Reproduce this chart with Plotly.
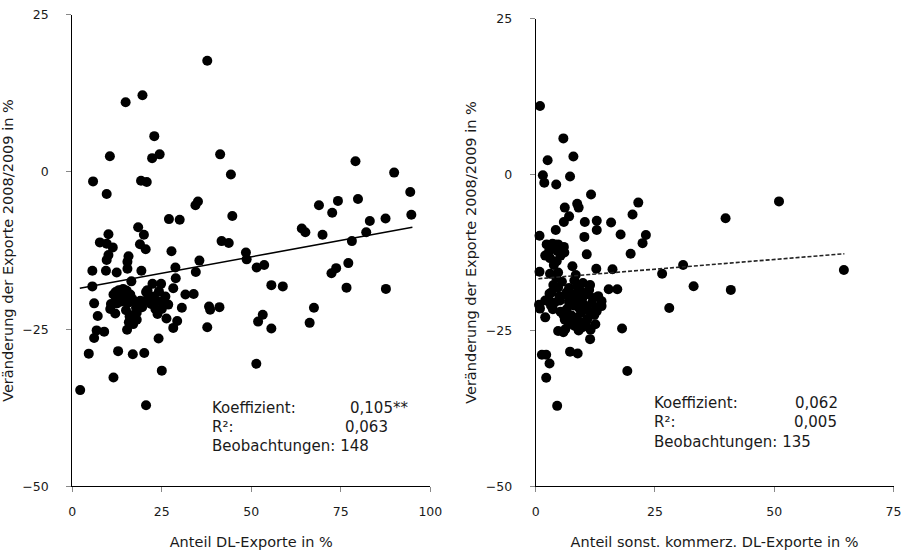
import plotly.graph_objects as go

# ---------------- data: left panel (Anteil DL-Exporte) ----------------
dl_share = [
    37.7, 19.6, 14.9, 22.9, 10.5, 22.3, 24.4, 41.3, 79.1, 89.9,
    44.3, 5.8, 19.2, 20.8, 9.6, 94.4, 79.8, 74.2, 35.1, 34.4,
    68.9, 72.6, 44.7, 94.7, 27.0, 30.0, 87.5, 83.1, 18.4, 64.1,
    65.1, 82.1, 10.1, 20.0, 69.9, 7.7, 9.6, 11.3, 18.9, 20.5,
    41.7, 43.7, 78.1, 27.7, 48.5, 48.7, 10.1, 9.6, 15.7, 15.4,
    35.5, 77.1, 28.8, 15.4, 5.6, 9.4, 12.4, 19.3, 34.5, 51.5,
    53.6, 73.7, 72.4, 28.9, 16.5, 5.6, 22.4, 24.8, 28.2, 55.6,
    58.8, 76.6, 87.6, 12.1, 14.0, 15.2, 20.6, 21.4, 31.6, 33.9,
    13.3, 15.7, 12.5, 17.3, 24.8, 6.1, 25.4, 26.8, 19.5, 38.2,
    38.5, 41.1, 30.6, 10.6, 23.2, 67.5, 18.0, 7.1, 18.0, 26.3,
    29.3, 15.8, 51.9, 53.2, 66.3, 15.3, 28.2, 37.7, 55.6, 6.8,
    8.9, 6.1, 24.1, 4.6, 12.8, 16.9, 20.1, 51.4, 25.0, 11.5,
    2.2, 20.6,
    13.0, 14.8, 13.8, 15.5, 12.2, 14.2, 16.2, 21.0, 22.5, 23.6,
    20.5, 24.2, 22.0, 16.5, 17.0, 15.0, 16.0, 10.8, 25.0, 26.0,
    17.8, 11.5, 19.0, 16.8, 12.0, 23.8,
]
dl_change = [
    17.7, 12.2, 11.1, 5.7, 2.5, 2.2, 2.8, 2.8, 1.7, -0.1,
    -0.4, -1.5, -1.4, -1.6, -3.5, -3.2, -4.3, -4.6, -4.7, -5.3,
    -5.3, -6.5, -7.0, -6.8, -7.5, -7.6, -7.4, -7.8, -8.8, -9.0,
    -9.6, -9.6, -9.9, -10.0, -10.0, -11.2, -11.4, -12.0, -11.5, -12.3,
    -11.0, -11.3, -11.0, -12.6, -12.8, -13.9, -13.2, -14.0, -13.4, -14.3,
    -14.1, -14.5, -15.2, -15.4, -15.7, -15.7, -16.0, -15.7, -15.9, -15.2,
    -14.8, -15.3, -16.1, -16.9, -17.4, -18.2, -17.8, -17.8, -18.5, -18.0,
    -18.2, -18.4, -18.6, -19.1, -19.3, -18.9, -19.1, -19.8, -19.5, -19.4,
    -20.0, -19.8, -20.9, -20.7, -20.6, -20.9, -21.1, -21.1, -21.5, -21.4,
    -21.9, -21.5, -21.6, -21.8, -21.8, -21.6, -22.4, -22.9, -23.5, -23.3,
    -23.7, -23.9, -23.8, -22.7, -24.0, -25.1, -24.8, -24.7, -24.9, -25.2,
    -25.4, -26.4, -26.5, -28.9, -28.5, -29.0, -28.8, -30.5, -31.6, -32.7,
    -34.7, -37.1,
    -18.8, -19.6, -20.6, -20.8, -20.0, -18.6, -19.5, -18.8, -19.8, -20.5,
    -20.5, -19.0, -21.0, -22.8, -24.2, -22.0, -23.0, -21.0, -21.8, -19.8,
    -21.6, -19.5, -20.5, -20.2, -22.5, -22.6,
]
dl_trend_x = [2.1, 95.0]
dl_trend_y = [-18.5, -8.8]

# ---------------- data: right panel (sonst. kommerz. DL-Exporte) ----------------
sk_share = [
    0.9, 5.8, 7.9, 2.5, 1.5, 1.8, 4.3, 7.2, 11.6, 51.0,
    21.5, 8.7, 9.0, 6.1, 20.3, 7.0, 5.9, 39.8, 10.3, 12.8,
    12.8, 15.8, 4.2, 0.8, 10.2, 17.8, 23.1, 22.4, 2.3, 4.0,
    4.7, 5.9, 2.0, 3.0, 4.4, 10.7, 19.9, 30.9, 7.7, 0.8,
    3.0, 4.7, 12.7, 16.1, 8.4, 26.5, 64.6, 8.1, 9.9, 11.4,
    3.7, 4.7, 33.1, 15.3, 17.1, 40.9, 2.9, 2.7, 6.5, 8.0,
    9.3, 10.7, 13.1, 0.7, 0.9, 5.1, 7.0, 8.6, 12.8, 13.8,
    10.5, 9.1, 3.6, 28.0, 2.0, 5.8, 6.1, 7.9, 9.3, 10.5,
    9.8, 11.5, 4.7, 5.8, 18.1, 11.4, 7.2, 8.8, 1.3, 2.2,
    2.9, 19.2, 2.2, 4.5,
    3.5, 4.5, 2.8, 5.2, 3.8, 6.0, 3.3, 5.0, 4.0, 7.0,
    8.8, 10.0, 11.8, 8.0, 6.5, 12.0, 9.5, 7.0, 8.5, 10.8,
    6.2, 9.0, 12.3, 11.2, 13.8, 6.8, 9.8, 12.5, 4.3, 2.0,
    5.5, 7.5, 10.5, 3.2, 5.2, 8.2, 11.0, 12.8, 9.6,
]
sk_change = [
    11.0, 5.8, 2.9, 2.3, -0.1, -1.3, -1.6, -0.3, -3.2, -4.3,
    -4.5, -4.7, -5.3, -5.3, -6.4, -6.7, -7.6, -7.0, -7.6, -7.4,
    -8.9, -7.7, -8.9, -9.8, -10.0, -9.6, -9.7, -11.0, -11.2, -11.2,
    -11.2, -11.6, -13.0, -13.4, -13.9, -12.8, -12.7, -14.5, -14.7, -15.6,
    -15.9, -15.7, -15.1, -15.2, -16.1, -15.9, -15.3, -17.0, -17.4, -17.7,
    -17.7, -18.1, -17.9, -18.4, -18.4, -18.5, -19.1, -20.1, -18.9, -19.2,
    -19.2, -19.2, -19.5, -20.9, -21.5, -20.2, -20.5, -20.2, -21.4, -21.1,
    -21.6, -21.4, -21.6, -21.4, -22.9, -22.5, -23.3, -23.3, -23.7, -23.6,
    -24.5, -24.9, -25.1, -25.3, -24.7, -26.4, -28.4, -28.7, -28.9, -28.9,
    -30.3, -31.5, -32.6, -37.1,
    -11.1, -12.2, -12.3, -13.0, -14.5, -12.5, -18.9, -19.5, -20.5, -18.2,
    -18.0, -20.8, -20.6, -21.0, -21.6, -19.8, -22.2, -24.0, -23.0, -23.2,
    -24.8, -25.0, -22.5, -18.5, -20.3, -19.5, -19.8, -24.0, -16.5, -20.2,
    -17.2, -22.6, -24.0, -21.0, -22.0, -24.3, -21.8, -21.9, -18.8,
]
sk_trend_x = [0.56, 64.7]
sk_trend_y = [-16.7, -12.7]

x_ticks_left = [0, 25, 50, 75, 100]
x_ticks_right = [0, 25, 50, 75]
y_ticks = [-50, -25, 0, 25]

y_title = "Veränderung der Exporte 2008/2009 in %"
x_title_left = "Anteil DL-Exporte in %"
x_title_right = "Anteil sonst. kommerz. DL-Exporte in %"

stats_labels = ["Koeffizient:", "R²:", "Beobachtungen: 148"]
stats_left_vals = ["0,105**", "0,063"]
stats_right_labels = ["Koeffizient:", "R²:", "Beobachtungen: 135"]
stats_right_vals = ["0,062", "0,005"]

FONT = "DejaVu Sans"
TXT = "#1a1a1a"
W, H = 904, 554
TICK_SIZE = 12.5
TITLE_SIZE = 14.5
NOTE_SIZE = 15

fig = go.Figure()
marker = dict(color="black", size=10, line=dict(width=0))
fig.add_trace(go.Scatter(x=dl_share, y=dl_change, mode="markers", marker=marker,
                         xaxis="x", yaxis="y", showlegend=False, cliponaxis=False))
fig.add_trace(go.Scatter(x=dl_trend_x, y=dl_trend_y, mode="lines",
                         line=dict(color="black", width=1.5),
                         xaxis="x", yaxis="y", showlegend=False))
fig.add_trace(go.Scatter(x=sk_share, y=sk_change, mode="markers", marker=marker,
                         xaxis="x2", yaxis="y2", showlegend=False, cliponaxis=False))
fig.add_trace(go.Scatter(x=sk_trend_x, y=sk_trend_y, mode="lines",
                         line=dict(color="#222", width=1.6, dash="4px,2px"),
                         xaxis="x2", yaxis="y2", showlegend=False))

def px_x(p):
    return p / W

def px_y(p):
    return (H - p) / H

axis_common = dict(showgrid=False, zeroline=False, showline=True, linecolor="black",
                   linewidth=1.2, ticks="outside", ticklen=5, tickcolor="#888",
                   tickwidth=1, tickfont=dict(family=FONT, size=TICK_SIZE, color=TXT),
                   ticklabeloverflow="allow", automargin=False)
title_font = dict(family=FONT, size=TITLE_SIZE, color=TXT)

fig.update_layout(
    width=W, height=H,
    margin=dict(l=0, r=0, t=0, b=0),
    paper_bgcolor="white", plot_bgcolor="white",
    font=dict(family=FONT, size=TICK_SIZE, color=TXT),
    xaxis=dict(domain=[px_x(72.3), px_x(430.3)], range=[0, 100], tickvals=x_ticks_left,
               anchor="y", ticklabelstandoff=9,
               title=dict(text=x_title_left, standoff=18, font=title_font),
               **axis_common),
    yaxis=dict(domain=[px_y(486.3), px_y(14.8)], range=[-50, 25], tickvals=y_ticks,
               anchor="x", ticklabelstandoff=15,
               title=dict(text=y_title, standoff=5, font=title_font),
               **axis_common),
    xaxis2=dict(domain=[px_x(535.7), px_x(893.5)], range=[0, 75], tickvals=x_ticks_right,
                anchor="y2", ticklabelstandoff=9,
                title=dict(text=x_title_right, standoff=18, font=title_font),
                **axis_common),
    yaxis2=dict(domain=[px_y(486.3), px_y(18.7)], range=[-50, 25], tickvals=y_ticks,
                anchor="x2", ticklabelstandoff=15,
                title=dict(text=y_title, standoff=5, font=title_font),
                **axis_common),
)

note_font = dict(family=FONT, size=NOTE_SIZE, color=TXT)
ann = []
for lab, yy in zip(stats_labels, [408, 427, 446]):
    ann.append(dict(text=lab, x=px_x(210), y=px_y(yy), xref="paper", yref="paper",
                    xanchor="left", yanchor="middle", showarrow=False, font=note_font))
for val, xx, yy in zip(stats_left_vals, [348, 343], [408, 427]):
    ann.append(dict(text=val, x=px_x(xx), y=px_y(yy), xref="paper", yref="paper",
                    xanchor="left", yanchor="middle", showarrow=False, font=note_font))
for lab, yy in zip(stats_right_labels, [403, 422, 442]):
    ann.append(dict(text=lab, x=px_x(652), y=px_y(yy), xref="paper", yref="paper",
                    xanchor="left", yanchor="middle", showarrow=False, font=note_font))
for val, xx, yy in zip(stats_right_vals, [793, 792], [403, 422]):
    ann.append(dict(text=val, x=px_x(xx), y=px_y(yy), xref="paper", yref="paper",
                    xanchor="left", yanchor="middle", showarrow=False, font=note_font))
fig.update_layout(annotations=ann)

fig.write_html(
    "out.html",
    config={"displayModeBar": False},
    post_script="document.body.style.margin='0px';document.body.style.padding='0px';"
                "document.body.style.overflow='hidden';",
)
